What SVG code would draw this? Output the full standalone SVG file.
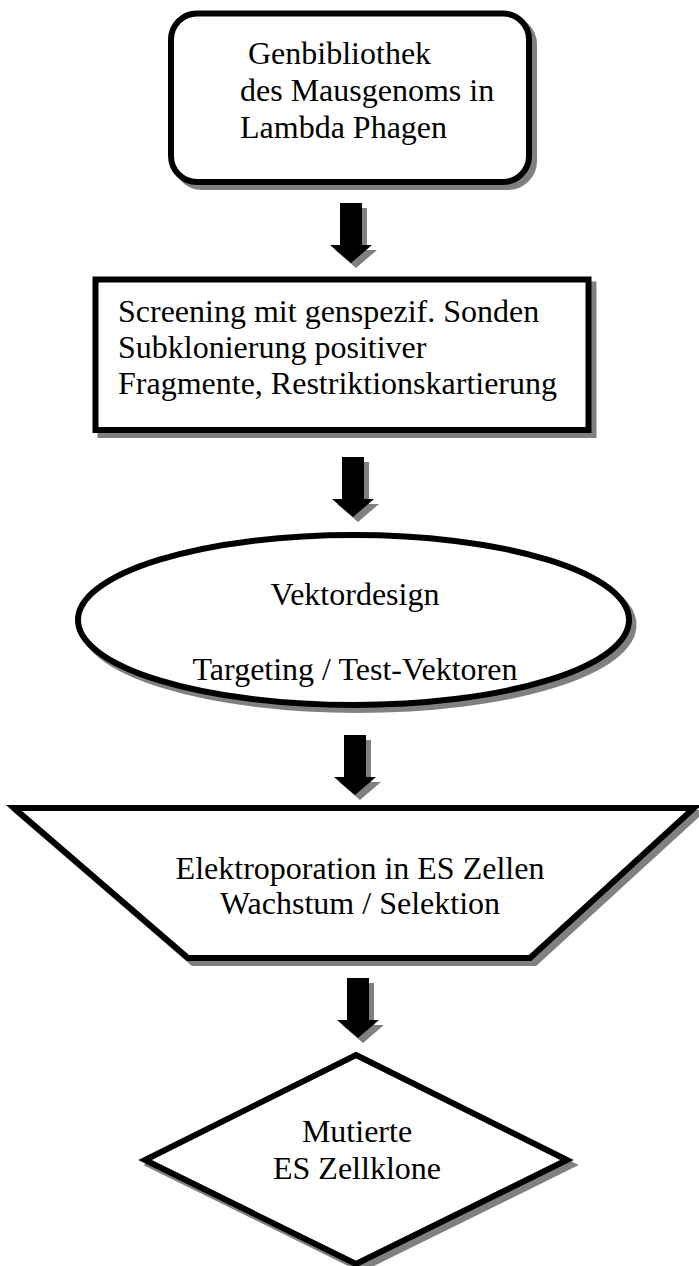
<svg xmlns="http://www.w3.org/2000/svg" xmlns:xlink="http://www.w3.org/1999/xlink" width="699" height="1266" viewBox="0 0 699 1266">
<style>
.bg{fill:#ffffff}
.shape{fill:#ffffff;stroke:#000000;stroke-width:6;stroke-linejoin:miter}
.shadow{fill:#808080;stroke:#808080;stroke-width:6}
.arrow{fill:#000000}
.ashadow{fill:#808080}
.t{font-family:"Liberation Serif","Times New Roman",serif;font-size:32px;fill:#000000}
.c{text-anchor:middle}
</style>
<defs>
<path id="arr" d="M-11,0 H11 V42 H21 L0,60 L-21,42 H-11 Z"/>
</defs>
<rect class="bg" x="0" y="0" width="699" height="1266"/>

<g id="connectors">
  <use href="#arr" class="ashadow" transform="translate(356,208)"/>
  <use href="#arr" class="arrow" transform="translate(351,203)"/>
  <use href="#arr" class="ashadow" transform="translate(358,462)"/>
  <use href="#arr" class="arrow" transform="translate(353,457)"/>
  <use href="#arr" class="ashadow" transform="translate(360,740)"/>
  <use href="#arr" class="arrow" transform="translate(355,735)"/>
  <use href="#arr" class="ashadow" transform="translate(363,983)"/>
  <use href="#arr" class="arrow" transform="translate(358,978)"/>
</g>

<g id="node1">
  <rect class="shadow" x="176" y="18.5" width="358" height="168.5" rx="26"/>
  <rect class="shape" x="171" y="13.5" width="358" height="168.5" rx="26"/>
  <text class="t" x="248" y="64">Genbibliothek</text>
  <text class="t" x="240" y="101">des Mausgenoms in</text>
  <text class="t" x="240" y="138">Lambda Phagen</text>
</g>

<g id="node2">
  <rect class="shadow" x="100.5" y="284.5" width="493" height="150.5"/>
  <rect class="shape" x="95.5" y="279.5" width="493" height="150.5"/>
  <text class="t" x="118" y="322">Screening mit genspezif. Sonden</text>
  <text class="t" x="118" y="358">Subklonierung positiver</text>
  <text class="t" x="118" y="394">Fragmente, Restriktionskartierung</text>
</g>

<g id="node3">
  <ellipse class="shadow" cx="358" cy="625" rx="275.5" ry="85"/>
  <ellipse class="shape" cx="353.5" cy="620" rx="275.5" ry="85"/>
  <text class="t c" x="355" y="605">Vektordesign</text>
  <text class="t c" x="355" y="680">Targeting / Test-Vektoren</text>
</g>

<g id="node4">
  <polygon class="shadow" points="19,813 699,813 535,963 193,963"/>
  <polygon class="shape" points="14,808 694,808 530,958 188,958"/>
  <text class="t c" x="360" y="879">Elektroporation in ES Zellen</text>
  <text class="t c" x="360" y="914">Wachstum / Selektion</text>
</g>

<g id="node5">
  <polygon class="shadow" points="361,1060 572,1165 361,1269 150,1165"/>
  <polygon class="shape" points="356,1055 567,1160 356,1264 145,1160"/>
  <text class="t c" x="357" y="1142">Mutierte</text>
  <text class="t c" x="357" y="1179">ES Zellklone</text>
</g>
</svg>
